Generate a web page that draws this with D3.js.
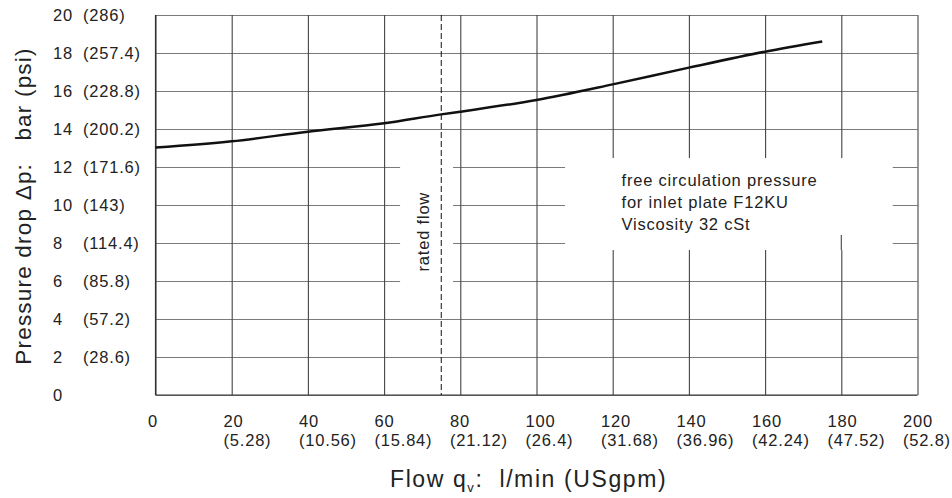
<!DOCTYPE html>
<html>
<head>
<meta charset="utf-8">
<script src="https://cdn.jsdelivr.net/npm/d3@7"></script>
<style>
  html, body { margin: 0; padding: 0; background: #fff; }
  svg { display: block; font-family: "Liberation Sans", Arial, Helvetica, sans-serif; }
  text { white-space: pre; }
</style>
</head>
<body>
<svg id="chart" width="952" height="498"></svg>
<script>
// ---- data ----
const flow = [0, 20, 40, 60, 75, 80, 100, 120, 140, 160, 175];
const pressure = [13.02, 13.35, 13.86, 14.3, 14.77, 14.91, 15.53, 16.35, 17.23, 18.07, 18.61];
const xTicks = [0, 20, 40, 60, 80, 100, 120, 140, 160, 180, 200];
const xTickUS = ["", "(5.28)", "(10.56)", "(15.84)", "(21.12)", "(26.4)", "(31.68)", "(36.96)", "(42.24)", "(47.52)", "(52.8)"];
const yTicks = [0, 2, 4, 6, 8, 10, 12, 14, 16, 18, 20];
const yTickPsi = ["", "(28.6)", "(57.2)", "(85.8)", "(114.4)", "(143)", "(171.6)", "(200.2)", "(228.8)", "(257.4)", "(286)"];
const ratedFlow = 75;
const noteLines = ["free circulation pressure", "for inlet plate F12KU", "Viscosity 32 cSt"];

// ---- layout ----
const L = 155.5, R = 917.5, T = 15, B = 395;
const svg = d3.select("#chart");
const x = d3.scaleLinear().domain([0, 200]).range([L, R]);
const y = d3.scaleLinear().domain([0, 20]).range([B, T]);
const xLab = d3.scaleLinear().domain([0, 200]).range([148, 903]);

const SMALL = 16.5, SP = 0.8;

// horizontal grid
const gH = svg.append("g").attr("transform", `translate(${L},0)`)
  .call(d3.axisLeft(y).tickValues(yTicks).tickSize(-(R - L)).tickFormat(""));
gH.select(".domain").remove();
gH.selectAll("line").attr("stroke", "#7a7a7a").attr("stroke-width", 1.2);

// vertical grid
const gV = svg.append("g").attr("transform", `translate(0,${T})`)
  .call(d3.axisTop(x).tickValues(xTicks).tickSize(-(B - T)).tickFormat(""));
gV.select(".domain").remove();
gV.selectAll("line").attr("stroke", "#444").attr("stroke-width", 1.1);

// masks (gaps in the grid)
function maskRect(x0, x1, y0, y1) {
  svg.append("rect")
    .attr("x", x(x0)).attr("width", x(x1) - x(x0))
    .attr("y", y(y1)).attr("height", y(y0) - y(y1))
    .attr("fill", "#fff");
}
maskRect(64.2, 78.1, 5.3, 12.6);
maskRect(107.5, 193.5, 7.63, 12.47);
svg.append("line")
  .attr("x1", x(180)).attr("x2", x(180))
  .attr("y1", y(8.42)).attr("y2", y(7.63))
  .attr("stroke", "#444").attr("stroke-width", 1.1);

// bottom and left frame darker
svg.append("line").attr("x1", L).attr("x2", R).attr("y1", y(0)).attr("y2", y(0))
  .attr("stroke", "#333").attr("stroke-width", 1.2);
svg.append("line").attr("x1", L).attr("x2", L).attr("y1", T).attr("y2", B)
  .attr("stroke", "#333").attr("stroke-width", 1.2);

// rated flow dashed line
svg.append("line")
  .attr("x1", x(ratedFlow)).attr("x2", x(ratedFlow))
  .attr("y1", y(20)).attr("y2", y(0))
  .attr("stroke", "#111").attr("stroke-width", 1)
  .attr("stroke-dasharray", "6,3");

// rated flow label
svg.append("text")
  .attr("transform", `translate(429,${231.7}) rotate(-90)`)
  .attr("text-anchor", "middle")
  .attr("font-size", SMALL).attr("letter-spacing", SP)
  .attr("fill", "#222")
  .text("rated flow");

// note
svg.append("g").selectAll("text").data(noteLines).join("text")
  .attr("x", 621.5)
  .attr("y", (d, i) => 186 + i * 22.2)
  .attr("font-size", SMALL).attr("letter-spacing", SP)
  .attr("fill", "#222")
  .text(d => d);

// curve
const pts = flow.map((f, i) => [f, pressure[i]]);
svg.append("path")
  .attr("d", d3.line().x(d => x(d[0])).y(d => y(d[1])).curve(d3.curveMonotoneX)(pts))
  .attr("fill", "none").attr("stroke", "#111").attr("stroke-width", 2.5);

// y tick labels
const yl = svg.append("g").attr("font-size", SMALL).attr("letter-spacing", SP).attr("fill", "#222");
yl.selectAll("text.n").data(yTicks).join("text").attr("class", "n")
  .attr("x", 53).attr("y", d => y(d)).attr("dy", "0.35em")
  .text(d => d);
yl.selectAll("text.p").data(yTickPsi).join("text").attr("class", "p")
  .attr("x", 83).attr("y", (d, i) => y(yTicks[i])).attr("dy", "0.35em")
  .text(d => d);

// x tick labels
const xl = svg.append("g").attr("font-size", SMALL).attr("letter-spacing", SP).attr("fill", "#222");
xl.selectAll("text.n").data(xTicks).join("text").attr("class", "n")
  .attr("x", d => xLab(d)).attr("y", 427)
  .text(d => d);
xl.selectAll("text.u").data(xTickUS).join("text").attr("class", "u")
  .attr("x", (d, i) => xLab(xTicks[i])).attr("y", 446)
  .text(d => d);

// axis titles
const xt = svg.append("text")
  .attr("x", 390).attr("y", 487)
  .attr("font-size", 23).attr("letter-spacing", 1.6).attr("fill", "#222");
xt.append("tspan").text("Flow q");
xt.append("tspan").attr("font-size", 13).attr("dy", 5).text("v");
xt.append("tspan").attr("dy", -5).text(":  l/min (USgpm)");

svg.append("text")
  .attr("transform", "translate(31,206) rotate(-90)")
  .attr("text-anchor", "middle")
  .attr("font-size", 22.5).attr("letter-spacing", 1.2).attr("fill", "#222")
  .text("Pressure drop \u0394p:   bar (psi)");
</script>
</body>
</html>
